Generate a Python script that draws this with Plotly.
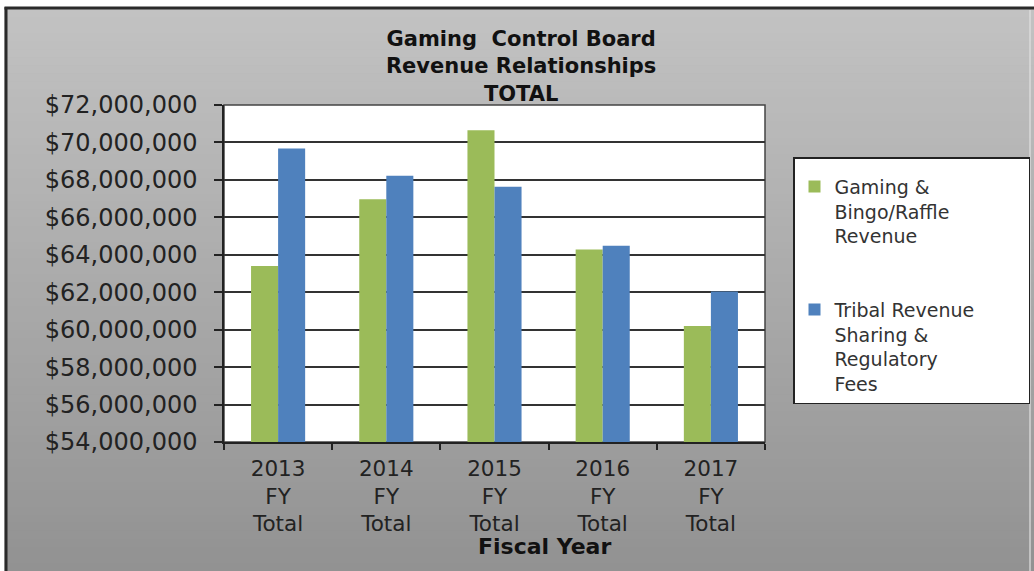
import plotly.graph_objects as go

years = ["2013", "2014", "2015", "2016", "2017"]
tick_labels = [f"{y}<br>FY<br>Total" for y in years]
gaming_bingo = [63.4e6, 66.97e6, 70.65e6, 64.28e6, 60.2e6]
tribal_fees = [69.68e6, 68.22e6, 67.63e6, 64.48e6, 62.04e6]
NB = "\u00a0"
series_names = ["Gaming &<br>Bingo/Raffle<br>Revenue",
                "Tribal Revenue" + NB * 8 + "<br>Sharing &<br>Regulatory<br>Fees"]
y_ticks = list(range(54_000_000, 72_000_001, 2_000_000))
y_tick_text = [f"${v:,}" for v in y_ticks]

W, H = 1034, 571
L, R, T, B = 224, 1034 - 765, 105, 571 - 442
pw, ph = W - L - R, H - T - B

def px_x(x):
    return (x - L) / pw

def px_y(y):
    return (H - B - y) / ph

fig = go.Figure()
fig.add_trace(go.Bar(x=tick_labels, y=gaming_bingo, name=series_names[0],
                     marker=dict(color="#9BBB59", line=dict(width=0)), legendgroup="a"))
fig.add_trace(go.Bar(x=tick_labels, y=tribal_fees, name=series_names[1],
                     marker=dict(color="#4F81BD", line=dict(width=0)), legendgroup="b"))

shapes = []
shapes.append(dict(type="rect", xref="paper", yref="paper", x0=px_x(0), x1=px_x(W), y0=px_y(0), y1=px_y(8),
                   fillcolor="white", line=dict(width=0), layer="below"))
n = 70
top_c, bot_c = (194, 194, 194), (146, 146, 146)
y_start, y_end = 9, H
for i in range(n):
    ya = y_start + (y_end - y_start) * i / n
    yb = y_start + (y_end - y_start) * (i + 1) / n + 0.6
    t = i / (n - 1)
    c = tuple(round(top_c[k] + (bot_c[k] - top_c[k]) * t) for k in range(3))
    shapes.append(dict(type="rect", xref="paper", yref="paper", x0=px_x(7), x1=px_x(W),
                       y0=px_y(yb), y1=px_y(ya), fillcolor=f"rgb{c}", line=dict(width=0), layer="below"))
shapes.append(dict(type="rect", xref="paper", yref="paper", x0=px_x(0), x1=px_x(4.5), y0=px_y(H), y1=px_y(8),
                   fillcolor="white", line=dict(width=0), layer="below"))
shapes.append(dict(type="rect", xref="paper", yref="paper", x0=px_x(4.5), x1=px_x(7.5), y0=px_y(H), y1=px_y(7),
                   fillcolor="#2a2a2a", line=dict(width=0), layer="below"))
shapes.append(dict(type="rect", xref="paper", yref="paper", x0=px_x(4.5), x1=px_x(W), y0=px_y(9.5), y1=px_y(6.5),
                   fillcolor="#2a2a2a", line=dict(width=0), layer="below"))
shapes.append(dict(type="rect", xref="paper", yref="paper", x0=px_x(1029), x1=px_x(1031), y0=px_y(H), y1=px_y(10),
                   fillcolor="rgba(225,225,225,0.6)", line=dict(width=0), layer="below"))
shapes.append(dict(type="rect", xref="paper", yref="paper", x0=0, x1=1, y0=0, y1=1,
                   fillcolor="white", line=dict(color="#444444", width=1.5), layer="below"))

fig.update_layout(
    width=W, height=H,
    margin=dict(l=L, r=R, t=T, b=B, pad=0, autoexpand=False),
    paper_bgcolor="#b0b0b0", plot_bgcolor="white",
    barmode="group", bargap=0.5, bargroupgap=0,
    shapes=shapes,
    font=dict(family="DejaVu Sans", color="#222222"),
    title=dict(text="<b>Gaming  Control Board<br>Revenue Relationships<br>TOTAL</b>",
               x=0.504, xanchor="center", xref="container", y=1 - 46 / H, yanchor="top",
               font=dict(size=21, color="#111111", family="DejaVu Sans")),
    xaxis=dict(type="category", tickson="boundaries", ticks="outside", ticklen=6, tickcolor="#222",
               tickwidth=1.5, showline=True, linecolor="#222", linewidth=1.5,
               tickfont=dict(size=21.5, color="#222"), ticklabelstandoff=6, showgrid=False),
    yaxis=dict(range=[54e6, 72e6], tickvals=y_ticks, ticktext=y_tick_text,
               ticks="outside", ticklen=8, tickcolor="#222", tickwidth=1.5,
               showline=True, linecolor="#222", linewidth=1.5,
               showgrid=True, gridcolor="#333333", gridwidth=1.6,
               tickfont=dict(size=24, color="#222"), ticklabelstandoff=12, zeroline=False),
    legend=dict(x=px_x(793), y=px_y(157), xanchor="left", yanchor="top",
                bgcolor="white", bordercolor="#222", borderwidth=1.5,
                font=dict(size=19, color="#333"), valign="top",
                title=dict(text=" ", font=dict(size=7)),
                traceorder="grouped", tracegroupgap=46, itemwidth=30),
    annotations=[dict(text="<b>Fiscal Year</b>", xref="paper", yref="paper",
                      x=px_x(544), y=px_y(546), xanchor="center", yanchor="middle",
                      showarrow=False, font=dict(size=22, color="#111"))],
)

fig.write_html("out.html", config={"displayModeBar": False},
               post_script="document.body.style.margin='0';document.body.style.overflow='hidden';")
